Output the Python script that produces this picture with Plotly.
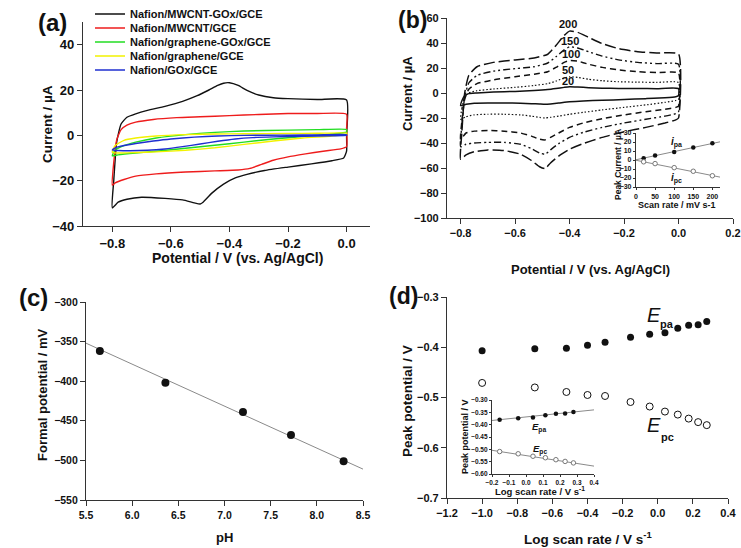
import plotly.graph_objects as go

W, H = 741, 548

# ---------------- Panel (a) data: CVs of modified electrodes ----------------
a_black_v = [-0.80, -0.795, -0.785, -0.77, -0.75, -0.72, -0.68, -0.62, -0.56, -0.51, -0.47, -0.44, -0.42, -0.40,
             -0.37, -0.34, -0.30, -0.25, -0.20, -0.10, 0.0,
             0.0, 0.0, -0.01, -0.05, -0.12, -0.20, -0.28, -0.34, -0.38, -0.42, -0.46, -0.49, -0.50, -0.52, -0.56,
             -0.62, -0.70, -0.75, -0.78, -0.80]
a_black_i = [-32, -20, -3, 5, 8, 9.5, 11, 12.8, 15, 17.5, 20, 22, 23, 23.2,
             22, 19.8, 17.8, 16.6, 16.2, 15.8, 15.6,
             0, -7, -10, -11.2, -12.6, -14, -15.5, -17.2, -18.8, -21.5, -25.5, -29.5, -30.3, -29.8, -28.5,
             -27.8, -27.3, -28.2, -29.5, -32]
a_red_v = [-0.80, -0.795, -0.785, -0.77, -0.75, -0.72, -0.66, -0.58, -0.50, -0.40, -0.30, -0.20, -0.10, 0.0,
           0.0, 0.0, -0.02, -0.08, -0.14, -0.20, -0.25, -0.29, -0.33, -0.37, -0.45, -0.55, -0.65, -0.72, -0.76,
           -0.79, -0.80]
a_red_i = [-22, -12, -2, 2.5, 4.5, 5.8, 7, 7.8, 8.2, 8.7, 9.2, 9.6, 9.6, 9.3,
           3, -5, -6, -7, -8.2, -9.5, -11, -12.8, -14.6, -15.3, -15.7, -16.2, -17, -18, -19.5,
           -21, -22]
a_green_v = [-0.80, -0.79, -0.76, -0.72, -0.65, -0.55, -0.45, -0.35, -0.20, -0.10, 0.0,
             0.0, -0.05, -0.15, -0.25, -0.35, -0.45, -0.55, -0.65, -0.72, -0.78, -0.80]
a_green_i = [-9, -6.5, -4.5, -3, -1.2, 0.3, 1.3, 1.9, 2.3, 2.5, 2.6,
             1.5, 0.6, -0.5, -1.6, -3.0, -4.4, -5.7, -7.0, -7.8, -8.6, -9]
a_yellow_v = [-0.80, -0.79, -0.76, -0.72, -0.65, -0.55, -0.45, -0.35, -0.20, -0.10, 0.0,
              0.0, -0.05, -0.15, -0.25, -0.35, -0.45, -0.55, -0.65, -0.72, -0.78, -0.80]
a_yellow_i = [-7.5, -4.5, -2.2, -1.2, -0.3, 0.3, 0.6, 0.7, 0.8, 0.9, 1.0,
              0.5, -0.3, -1.2, -2.5, -4.0, -5.5, -6.6, -7.3, -7.6, -7.8, -7.5]
a_blue_v = [-0.80, -0.79, -0.76, -0.72, -0.66, -0.60, -0.52, -0.44, -0.35, -0.20, -0.10, 0.0,
            0.0, -0.05, -0.15, -0.25, -0.32, -0.38, -0.44, -0.50, -0.56, -0.62, -0.68, -0.74, -0.78, -0.80]
a_blue_i = [-6.5, -5.5, -4.5, -3.6, -2.5, -1.6, -0.8, -0.3, 0.0, 0.1, 0.2, 0.3,
            0.0, -0.2, -0.4, -0.7, -1.0, -1.6, -2.6, -3.8, -5.0, -6.0, -6.6, -6.8, -6.7, -6.5]
a_names = ["Nafion/MWCNT-GOx/GCE", "Nafion/MWCNT/GCE", "Nafion/graphene-GOx/GCE",
           "Nafion/graphene/GCE", "Nafion/GOx/GCE"]
a_colors = ["#111111", "#ee1c1c", "#22dd22", "#f2f200", "#1f2fd0"]

# ---------------- Panel (b) data: CVs at different scan rates ----------------
b_up_v = [-0.80, -0.795, -0.785, -0.77, -0.74, -0.68, -0.60, -0.53, -0.48, -0.45, -0.42, -0.40, -0.37, -0.33,
          -0.28, -0.22, -0.15, -0.08, 0.0]
b_low_v = [0.0, -0.01, -0.05, -0.12, -0.20, -0.28, -0.35, -0.40, -0.44, -0.47, -0.49, -0.51, -0.54, -0.58,
           -0.64, -0.70, -0.75, -0.78, -0.80]
b_rates = ["200", "150", "100", "50", "20"]
b_up_i_200 = [-53, -30, 0, 14, 21, 24.5, 26.5, 28, 31, 38, 46, 49.5, 48.5, 44.5, 39.5, 35.5, 33, 32, 31.2]
b_low_i_200 = [-20, -21.5, -24, -27.5, -31, -35.5, -40.5, -45, -50.5, -56, -60.5, -59, -54, -49, -46, -45.5, -47, -49.5, -53]
b_up_i_150 = [-43, -25, -3, 8, 14, 17.5, 19.5, 21, 24, 29, 34.5, 37, 36, 33, 29.5, 26.5, 24.5, 23.5, 23]
b_low_i_150 = [-15, -16.5, -18.5, -21, -24, -27.5, -31.5, -35.5, -40.5, -45.5, -49, -48, -44.5, -41, -39.5, -39.5, -40, -41, -43]
b_up_i_100 = [-37, -22, -5, 3, 7.5, 10.5, 13, 15, 17, 20.5, 24.5, 26, 25.5, 23, 20.5, 18.5, 17, 16.3, 16]
b_low_i_100 = [-10.5, -11.5, -13, -15, -17.5, -20.5, -24, -27.5, -32, -35.5, -37.5, -37, -34.5, -32, -30.5, -30, -30.5, -32, -37]
b_up_i_50 = [-21, -12, -3, 0, 1.8, 3.2, 4.5, 6, 7.5, 9.5, 12, 13, 12.5, 11, 9.8, 9, 8.7, 8.5, 8.4]
b_low_i_50 = [-5, -6, -7.5, -9.5, -11.5, -13.5, -15.5, -17, -18.5, -19.5, -20, -19.5, -18.5, -17.5, -17, -17, -17.5, -19, -21]
b_up_i_20 = [-10, -6, -2, -0.5, 0, 0.8, 1.3, 2, 2.8, 3.6, 4.5, 5, 4.8, 4.3, 3.9, 3.7, 3.6, 3.5, 3.5]
b_low_i_20 = [-2, -3, -3.8, -4.5, -5.2, -5.8, -6.3, -7, -8, -8.7, -9, -8.8, -8.5, -8.2, -8, -8, -8.2, -9, -10]
b_label_v = [-0.405, -0.40, -0.396, -0.405, -0.405]
b_label_i = [55, 42, 31.6, 18.6, 9.7]

# inset (b): peak current vs scan rate
bi_rate = [20, 50, 100, 150, 200]
bi_ipa = [2, 5, 9, 14, 18.5]
bi_ipc = [-2, -4, -8.5, -12.5, -17.5]
bi_fit_x = [0, 220]
bi_fit_pa = [0.3, 20.2]
bi_fit_pc = [-0.3, -19.0]

# ---------------- Panel (c) data: formal potential vs pH ----------------
c_ph = [5.65, 6.36, 7.20, 7.72, 8.29]
c_e = [-362, -402, -439, -468, -501]
c_fit_ph = [5.5, 8.5]
c_fit_e = [-352, -511]

# ---------------- Panel (d) data: peak potential vs log scan rate ----------------
d_log = [-1.0, -0.70, -0.52, -0.40, -0.30, -0.155, -0.046, 0.041, 0.114, 0.176, 0.230, 0.279]
d_epa = [-0.407, -0.403, -0.402, -0.396, -0.390, -0.380, -0.374, -0.371, -0.362, -0.356, -0.355, -0.349]
d_epc = [-0.471, -0.480, -0.489, -0.495, -0.497, -0.509, -0.518, -0.528, -0.534, -0.542, -0.549, -0.555]
di_log = [-0.155, -0.046, 0.041, 0.114, 0.176, 0.230, 0.279]
di_epa = [-0.380, -0.374, -0.371, -0.362, -0.356, -0.355, -0.349]
di_epc = [-0.509, -0.518, -0.528, -0.534, -0.542, -0.549, -0.555]
di_fit_x = [-0.2, 0.4]
di_fit_pa = [-0.383, -0.340]
di_fit_pc = [-0.504, -0.568]

FONT = "Arial, Liberation Sans, sans-serif"
AX = "#333333"


def px(x):
    return x / W


def py(y):
    return 1 - y / H


fig = go.Figure()

# panel (a) traces, each with its own single-item legend for exact spacing
a_series = [(a_black_v, a_black_i), (a_red_v, a_red_i), (a_green_v, a_green_i),
            (a_yellow_v, a_yellow_i), (a_blue_v, a_blue_i)]
legend_rows = [14, 28, 42, 56, 70]
for k, ((v, i), name, col) in enumerate(zip(a_series, a_names, a_colors)):
    lg = "legend" if k == 0 else f"legend{k + 1}"
    fig.add_trace(go.Scatter(x=v, y=i, mode="lines", name=name, legend=lg,
                             line=dict(color=col, width=1.4, shape="spline", smoothing=0.5),
                             xaxis="x", yaxis="y"))

# panel (b)
b_styles = [("11px,4px", 1.5), ("7px,3px,2px,3px,2px,3px", 1.4), ("6px,4px", 1.5), ("1.5px,2px", 1.2), ("solid", 1.5)]
b_up = [b_up_i_200, b_up_i_150, b_up_i_100, b_up_i_50, b_up_i_20]
b_low = [b_low_i_200, b_low_i_150, b_low_i_100, b_low_i_50, b_low_i_20]
for r, up, low, (dash, w) in zip(b_rates, b_up, b_low, b_styles):
    fig.add_trace(go.Scatter(x=b_up_v + b_low_v, y=up + low, mode="lines", showlegend=False,
                             line=dict(color="#111111", width=w, dash=dash, shape="spline", smoothing=0.5),
                             xaxis="x2", yaxis="y2", name=r + " mV/s"))

# inset (b)
fig.add_trace(go.Scatter(x=bi_fit_x, y=bi_fit_pa, mode="lines", showlegend=False,
                         line=dict(color="#8a8a8a", width=1), xaxis="x3", yaxis="y3"))
fig.add_trace(go.Scatter(x=bi_fit_x, y=bi_fit_pc, mode="lines", showlegend=False,
                         line=dict(color="#8a8a8a", width=1), xaxis="x3", yaxis="y3"))
fig.add_trace(go.Scatter(x=bi_rate, y=bi_ipa, mode="markers", showlegend=False,
                         marker=dict(color="#111111", size=4.5), xaxis="x3", yaxis="y3"))
fig.add_trace(go.Scatter(x=bi_rate, y=bi_ipc, mode="markers", showlegend=False,
                         marker=dict(color="white", size=4.5, line=dict(color="#777777", width=1)),
                         xaxis="x3", yaxis="y3"))

# panel (c)
fig.add_trace(go.Scatter(x=c_fit_ph, y=c_fit_e, mode="lines", showlegend=False,
                         line=dict(color="#8a8a8a", width=1), xaxis="x4", yaxis="y4"))
fig.add_trace(go.Scatter(x=c_ph, y=c_e, mode="markers", showlegend=False,
                         marker=dict(color="#111111", size=8), xaxis="x4", yaxis="y4"))

# panel (d)
fig.add_trace(go.Scatter(x=d_log, y=d_epa, mode="markers", showlegend=False,
                         marker=dict(color="#111111", size=7), xaxis="x5", yaxis="y5"))
fig.add_trace(go.Scatter(x=d_log, y=d_epc, mode="markers", showlegend=False,
                         marker=dict(color="white", size=7, line=dict(color="#111111", width=1)),
                         xaxis="x5", yaxis="y5"))

# inset (d)
fig.add_trace(go.Scatter(x=di_fit_x, y=di_fit_pa, mode="lines", showlegend=False,
                         line=dict(color="#8a8a8a", width=1), xaxis="x6", yaxis="y6"))
fig.add_trace(go.Scatter(x=di_fit_x, y=di_fit_pc, mode="lines", showlegend=False,
                         line=dict(color="#8a8a8a", width=1), xaxis="x6", yaxis="y6"))
fig.add_trace(go.Scatter(x=di_log, y=di_epa, mode="markers", showlegend=False,
                         marker=dict(color="#111111", size=4.5), xaxis="x6", yaxis="y6"))
fig.add_trace(go.Scatter(x=di_log, y=di_epc, mode="markers", showlegend=False,
                         marker=dict(color="white", size=4.5, line=dict(color="#777777", width=1)),
                         xaxis="x6", yaxis="y6"))


def axis(dom, rng, dtick, fsize, anchor, fmt=None, ticklen=5):
    d = dict(domain=dom, range=rng, dtick=dtick, tick0=0, anchor=anchor, showgrid=False, zeroline=False,
             showline=True, linecolor=AX, linewidth=1.2, ticks="outside", ticklen=ticklen,
             tickwidth=1.1, tickcolor=AX, automargin=False,
             tickfont=dict(family=FONT, size=fsize, color="#111111", weight="bold"))
    if fmt:
        d["tickformat"] = fmt
    return d


layout = dict(
    width=W, height=H, margin=dict(l=0, r=0, t=0, b=0, pad=0, autoexpand=False),
    paper_bgcolor="white", plot_bgcolor="white", font=dict(family=FONT, color="#111111"),
    xaxis=axis([px(83), px(370)], [-0.9, 0.08], 0.2, 13, "y", ".1f"),
    yaxis=axis([py(226), py(22)], [-40, 50], 20, 13, "x"),
    xaxis2=axis([px(447), px(733)], [-0.85, 0.2], 0.2, 11, "y2", ".1f"),
    yaxis2=axis([py(218), py(18)], [-100, 60], 20, 11, "x2"),
    xaxis3=axis([px(636), px(720)], [0, 220], 50, 7, "y3", None, 2),
    yaxis3=axis([py(187), py(133)], [-30, 30], 10, 7, "x3", None, 2),
    xaxis4=axis([px(86), px(363)], [5.5, 8.5], 0.5, 10.5, "y4", ".1f"),
    yaxis4=axis([py(500), py(302)], [-550, -300], 50, 10.5, "x4"),
    xaxis5=axis([px(447), px(728)], [-1.2, 0.4], 0.2, 11, "y5", ".1f"),
    yaxis5=axis([py(498), py(297)], [-0.7, -0.3], 0.1, 11, "x5", ".1f"),
    xaxis6=axis([px(492), px(594)], [-0.2, 0.4], 0.1, 6.5, "y6", ".1f", 2),
    yaxis6=axis([py(474), py(400)], [-0.6, -0.3], 0.05, 6.5, "x6", ".2f", 2),
)

for k, row in enumerate(legend_rows):
    key = "legend" if k == 0 else f"legend{k + 1}"
    layout[key] = dict(x=px(90), y=py(row), xanchor="left", yanchor="middle",
                       bgcolor="rgba(0,0,0,0)", borderwidth=0,
                       font=dict(family=FONT, size=11, color="#111111", weight="bold"))

fig.update_layout(**layout)

ann = []


def text(x, y, s, size, angle=0, bold=True, xanchor="center", **kw):
    ann.append(dict(x=px(x), y=py(y), xref="paper", yref="paper", text=s, showarrow=False,
                    textangle=angle, xanchor=xanchor, yanchor="middle",
                    font=dict(family=FONT, size=size, color="#111111", weight="bold" if bold else "normal"), **kw))


# panel labels
text(52, 23, "(a)", 24)
text(412, 20, "(b)", 23)
text(33, 297, "(c)", 24)
text(403, 296, "(d)", 23)

# axis titles
text(238, 258, "Potential / V (vs. Ag/AgCl)", 14)
text(47, 124, "Current / µA", 13.5, -90)
text(590, 269, "Potential / V (vs. Ag/AgCl)", 13)
text(407, 94, "Current / µA", 13, -90)
text(677, 205, "Scan rate / mV s-1", 9)
text(618, 165, "Peak Current / µA", 8.5, -90)
text(224, 537, "pH", 13)
text(42, 395, "Formal potential / mV", 13, -90)
text(588, 538, "Log scan rate / V s<sup>-1</sup>", 13.5)
text(407, 401, "Peak potential / V", 13.5, -90)
text(540, 491, "Log scan rate / V s<sup>-1</sup>", 9.5)
text(465, 437, "Peak potential / V", 9, -90)

# series labels in (d)
text(654, 315, "<i>E</i>", 20, bold=False)
text(667, 324, "pa", 11)
text(654, 425, "<i>E</i>", 20, bold=False)
text(667, 437, "pc", 11)
text(539, 427, "<i>E</i><sub>pa</sub>", 9.5)
text(540, 449, "<i>E</i><sub>pc</sub>", 9.5)

# scan-rate labels in (b)
for lab, v, i in zip(b_rates, b_label_v, b_label_i):
    ann.append(dict(x=v, y=i, xref="x2", yref="y2", text=lab, showarrow=False,
                    font=dict(family=FONT, size=11, color="#111111", weight="bold")))
# inset (b) labels
ann.append(dict(x=106, y=19.5, xref="x3", yref="y3", text="<i>i</i><sub>pa</sub>", showarrow=False,
                font=dict(family=FONT, size=10, color="#111111", weight="bold")))
ann.append(dict(x=106, y=-21, xref="x3", yref="y3", text="<i>i</i><sub>pc</sub>", showarrow=False,
                font=dict(family=FONT, size=10, color="#111111", weight="bold")))

fig.update_layout(annotations=ann)
fig.write_html("out.html", config={"displayModeBar": False},
               post_script="document.body.style.margin='0';")
